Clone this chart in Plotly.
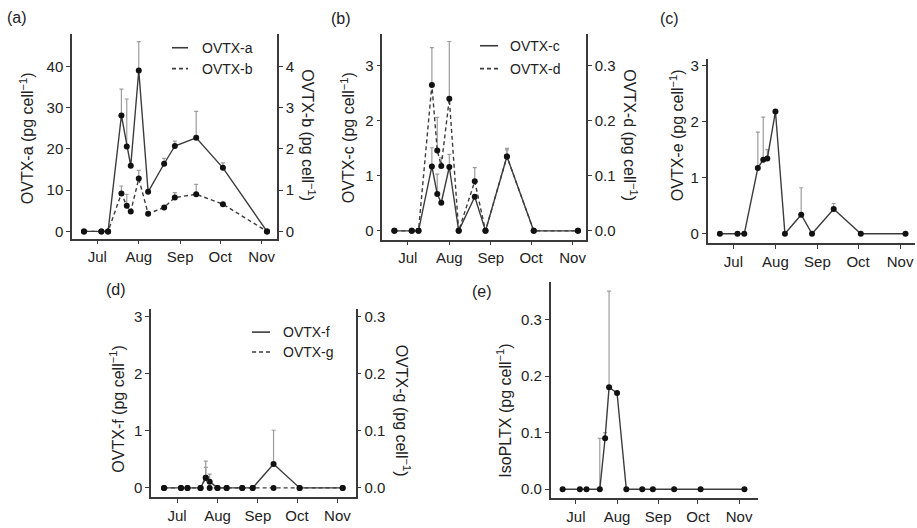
import plotly.graph_objects as go

# Sampling dates (same campaign for every toxin)
dates = ["2015-06-21", "2015-07-04", "2015-07-09", "2015-07-19", "2015-07-23",
         "2015-07-26", "2015-08-01", "2015-08-08", "2015-08-20", "2015-08-28",
         "2015-09-13", "2015-10-03", "2015-11-05"]

month_ticks = ["2015-07-01", "2015-08-01", "2015-09-01", "2015-10-01", "2015-11-01"]
month_labels = ["Jul", "Aug", "Sep", "Oct", "Nov"]

# Toxin content per cell (mean and upper SD)
ovtx_a = [0, 0, 0, 28.1, 20.6, 15.9, 39.0, 9.6, 16.4, 20.7, 22.7, 15.4, 0]
ovtx_a_err = [0, 0, 0, 6.4, 11.5, 0, 7.0, 0, 1.3, 1.2, 6.4, 1.2, 0]
ovtx_b = [0, 0, 0, 0.92, 0.62, 0.48, 1.28, 0.43, 0.58, 0.82, 0.90, 0.66, 0]
ovtx_b_err = [0, 0, 0, 0.18, 0.28, 0, 0.20, 0, 0, 0.12, 0.24, 0, 0]

ovtx_c = [0, 0, 0, 1.17, 0.67, 0.51, 1.16, 0, 0.62, 0, 1.35, 0, 0]
ovtx_c_err = [0, 0, 0, 0.34, 0.36, 0, 0.23, 0, 0, 0, 0.15, 0, 0]
ovtx_d = [0, 0, 0, 0.265, 0.146, 0.118, 0.240, 0, 0.090, 0, 0.135, 0, 0]
ovtx_d_err = [0, 0, 0, 0.068, 0.060, 0.015, 0.104, 0, 0.025, 0, 0.012, 0, 0]

ovtx_e = [0, 0, 0, 1.17, 1.32, 1.34, 2.18, 0, 0.34, 0, 0.44, 0, 0]
ovtx_e_err = [0, 0, 0, 0.64, 0.76, 0.16, 0, 0, 0.48, 0, 0.10, 0, 0]

ovtx_f = [0, 0, 0, 0, 0.18, 0.11, 0, 0, 0, 0, 0.42, 0, 0]
ovtx_f_err = [0, 0, 0, 0, 0.29, 0.13, 0, 0, 0, 0, 0.59, 0, 0]
ovtx_g = [0, 0, 0, 0, 0.018, 0, 0, 0, 0, 0, 0, 0, 0]
ovtx_g_err = [0, 0, 0, 0, 0.018, 0, 0, 0, 0, 0, 0, 0, 0]

iso_pltx = [0, 0, 0, 0, 0.09, 0.18, 0.17, 0, 0, 0, 0, 0, 0]
iso_pltx_err = [0, 0, 0, 0.09, 0.01, 0.17, 0, 0, 0, 0, 0, 0, 0]

W, H = 917, 528
FONT = "Liberation Sans, Arial, sans-serif"
INK = "#222222"
AXIS = "#3a3a3a"
LINE = "#3c3c3c"
ERR = "#9c9c9c"
TICK_SIZE = 15
TITLE_SIZE = 16
LEG_SIZE = 14


def px(x):
    return x / W


def py(y):
    return 1 - y / H


fig = go.Figure()


def add_series(xa, ya, values, errors, dash):
    fig.add_trace(go.Scatter(
        x=dates, y=values, xaxis=xa, yaxis=ya, mode="lines+markers",
        line=dict(color=LINE, width=1.4, dash=dash),
        marker=dict(color="#111111", size=6),
        error_y=dict(type="data", symmetric=False, array=errors,
                     arrayminus=[0] * len(errors), color=ERR,
                     thickness=1.2, width=2),
        showlegend=False, cliponaxis=False))


DASH = "4px,3px"
add_series("x", "y", ovtx_a, ovtx_a_err, "solid")
add_series("x", "y2", ovtx_b, ovtx_b_err, DASH)
add_series("x2", "y3", ovtx_c, ovtx_c_err, "solid")
add_series("x2", "y4", ovtx_d, ovtx_d_err, DASH)
add_series("x3", "y5", ovtx_e, ovtx_e_err, "solid")
add_series("x4", "y7", ovtx_g, ovtx_g_err, DASH)
add_series("x4", "y6", ovtx_f, ovtx_f_err, "solid")
add_series("x5", "y8", iso_pltx, iso_pltx_err, "solid")


def xaxis(left, right, rng, anchor):
    return dict(domain=[px(left), px(right)], range=rng, type="date",
                tickvals=month_ticks, ticktext=month_labels,
                ticks="outside", ticklen=4, tickwidth=1.2, tickcolor=AXIS,
                showline=True, linecolor=AXIS, linewidth=1.5,
                showgrid=False, zeroline=False, anchor=anchor,
                tickfont=dict(family=FONT, size=TICK_SIZE, color=INK))


def yaxis(top, bottom, rng, ticks, anchor, fmt=None, side="left",
          overlay=None):
    d = dict(range=rng, tickvals=ticks, ticks="outside", ticklen=4,
             tickwidth=1.2, tickcolor=AXIS, showline=True, linecolor=AXIS,
             linewidth=1.5, showgrid=False, zeroline=False, anchor=anchor,
             side=side, tickfont=dict(family=FONT, size=TICK_SIZE, color=INK))
    if fmt:
        d["tickformat"] = fmt
    if overlay:
        d["overlaying"] = overlay
    else:
        d["domain"] = [py(bottom), py(top)]
    return d


xr_a = ["2015-06-12", "2015-11-12 12:00"]
xr_b = ["2015-06-12", "2015-11-11"]
xr_c = ["2015-06-12", "2015-11-12"]
xr_d = ["2015-06-11", "2015-11-15"]
xr_e = ["2015-06-12", "2015-11-15"]

fig.update_layout(
    width=W, height=H, margin=dict(l=0, r=0, t=0, b=0),
    paper_bgcolor="white", plot_bgcolor="white",
    font=dict(family=FONT, color=INK),
    xaxis=xaxis(72, 277, xr_a, "y"),
    yaxis=yaxis(32, 238, [-1.76, 47.9], [0, 10, 20, 30, 40], "x"),
    yaxis2=yaxis(32, 238, [-0.176, 4.79], [0, 1, 2, 3, 4], "x",
                 side="right", overlay="y"),
    xaxis2=xaxis(382.3, 586, xr_b, "y3"),
    yaxis3=yaxis(32, 239, [-0.16, 3.58], [0, 1, 2, 3], "x2"),
    yaxis4=yaxis(32, 239, [-0.016, 0.358], [0, 0.1, 0.2, 0.3], "x2",
                 fmt=".1f", side="right", overlay="y3"),
    xaxis3=xaxis(707.7, 915, xr_c, "y5"),
    yaxis5=yaxis(57, 242.7, [-0.17, 3.12], [0, 1, 2, 3], "x3"),
    xaxis4=xaxis(151, 355.7, xr_d, "y6"),
    yaxis6=yaxis(309, 497.7, [-0.157, 3.13], [0, 1, 2, 3], "x4"),
    yaxis7=yaxis(309, 497.7, [-0.0157, 0.313], [0, 0.1, 0.2, 0.3], "x4",
                 fmt=".1f", side="right", overlay="y6"),
    xaxis5=xaxis(550.7, 757.7, xr_e, "y8"),
    yaxis8=yaxis(281.7, 499.3, [-0.0163, 0.366], [0, 0.1, 0.2, 0.3], "x5",
                 fmt=".1f"),
)

UNIT = " (pg cell<sup>−1</sup>)"
annotations = []


def label(text, x, y, size, angle=0, anchor="center"):
    annotations.append(dict(text=text, x=px(x), y=py(y), xref="paper",
                            yref="paper", showarrow=False, textangle=angle,
                            xanchor=anchor, yanchor="middle",
                            font=dict(family=FONT, size=size, color=INK)))


# Panel letters
label("(a)", 17, 16, TITLE_SIZE)
label("(b)", 341, 17, TITLE_SIZE)
label("(c)", 669, 17, TITLE_SIZE)
label("(d)", 116, 289, TITLE_SIZE)
label("(e)", 482, 291, TITLE_SIZE)

# Axis titles
label("OVTX-a" + UNIT, 27, 137, TITLE_SIZE, -90)
label("OVTX-b" + UNIT, 308, 134, TITLE_SIZE, 90)
label("OVTX-c" + UNIT, 348, 137, TITLE_SIZE, -90)
label("OVTX-d" + UNIT, 630, 134, TITLE_SIZE, 90)
label("OVTX-e" + UNIT, 677, 134, TITLE_SIZE, -90)
label("OVTX-f" + UNIT, 117, 410, TITLE_SIZE, -90)
label("OVTX-g" + UNIT, 403, 411, TITLE_SIZE, 90)
label("IsoPLTX" + UNIT, 504, 411, TITLE_SIZE, -90)

# In-plot keys
shapes = []


def key(x0, x1, y, text_x, text, dash):
    shapes.append(dict(type="line", xref="paper", yref="paper",
                       x0=px(x0), x1=px(x1), y0=py(y), y1=py(y),
                       line=dict(color=LINE, width=1.6, dash=dash)))
    label(text, text_x, y, LEG_SIZE, anchor="left")


key(172, 188, 46, 200, "OVTX-a", "solid")
key(172, 188, 67, 200, "OVTX-b", DASH)
key(480, 498, 44, 508, "OVTX-c", "solid")
key(480, 498, 67, 508, "OVTX-d", DASH)
key(252, 270, 332, 281, "OVTX-f", "solid")
key(252, 270, 352, 281, "OVTX-g", DASH)

fig.update_layout(annotations=annotations, shapes=shapes)

fig.write_html("out.html")
